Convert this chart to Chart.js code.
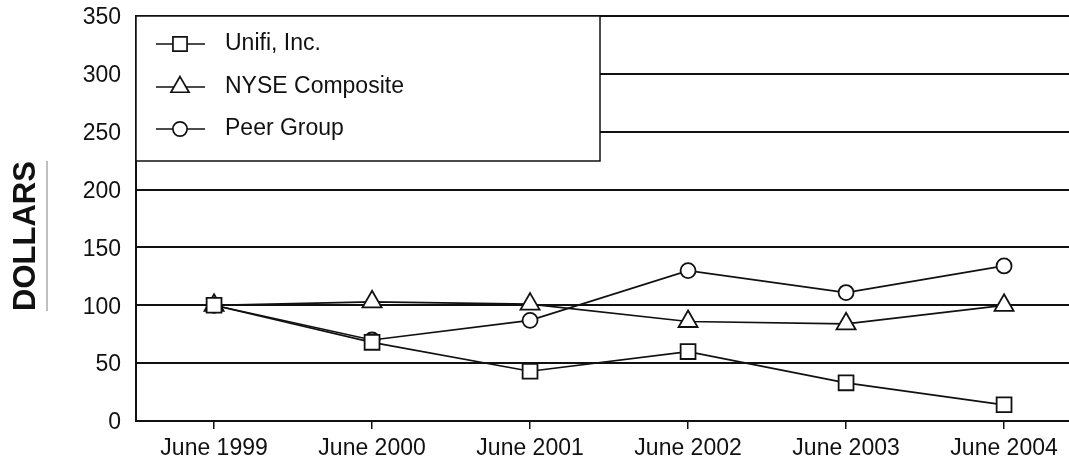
<!DOCTYPE html>
<html lang="en">
<head>
    <meta charset="UTF-8">
    <title>Stock Performance</title>
    <script src="https://cdn.jsdelivr.net/npm/chart.js"></script>
    <style>
        body {
            margin: 0;
            background: #fff;
            overflow: hidden;
        }
        canvas {
            display: block;
        }
    </style>
</head>
<body>
    <canvas id="perfChart" width="1069" height="459"></canvas>
    <script>
        const years = ['June 1999', 'June 2000', 'June 2001', 'June 2002', 'June 2003', 'June 2004'];
        const unifi = [100, 68, 43, 60, 33, 14];
        const nyse = [100, 103, 101, 86, 84, 100];
        const peer = [100, 70, 87, 130, 111, 134];
        const yTicks = [0, 50, 100, 150, 200, 250, 300, 350];

        const font = 'Liberation Sans, Arial, sans-serif';
        const ink = '#111';

        function series(label, values, style, radius) {
            return {
                label: label,
                data: values.map((v, i) => ({ x: i, y: v })),
                borderColor: ink,
                borderWidth: 1.7,
                pointStyle: style,
                pointRadius: radius,
                pointHoverRadius: radius,
                pointBackgroundColor: '#fff',
                pointBorderColor: ink,
                pointBorderWidth: 1.8,
                tension: 0
            };
        }

        // legend box in the top left corner + underlined axis title
        const decor = {
            id: 'decor',
            afterDraw(chart) {
                const ctx = chart.ctx;
                const area = chart.chartArea;
                ctx.save();
                ctx.fillStyle = '#fff';
                ctx.fillRect(area.left, area.top, 464, 145);
                ctx.strokeStyle = ink;
                ctx.lineWidth = 1.5;
                ctx.strokeRect(area.left, area.top, 464, 145);

                const rows = [44, 87, 129];
                chart.data.datasets.forEach((ds, i) => {
                    const y = rows[i];
                    ctx.strokeStyle = ink;
                    ctx.lineWidth = 1.7;
                    ctx.beginPath();
                    ctx.moveTo(156, y);
                    ctx.lineTo(205, y);
                    ctx.stroke();
                    ctx.fillStyle = '#fff';
                    Chart.helpers.drawPoint(ctx, {
                        pointStyle: ds.pointStyle,
                        radius: ds.pointRadius * 0.95,
                        rotation: 0,
                        borderWidth: 1.8
                    }, 180, y);
                    ctx.fillStyle = ink;
                    ctx.font = '23px ' + font;
                    ctx.textBaseline = 'middle';
                    ctx.textAlign = 'left';
                    ctx.fillText(ds.label, 225, y);
                });

                // axis title
                ctx.translate(26, 236);
                ctx.rotate(-Math.PI / 2);
                ctx.font = 'bold 31px ' + font;
                ctx.textAlign = 'center';
                ctx.textBaseline = 'middle';
                ctx.fillStyle = ink;
                ctx.fillText('DOLLARS', 0, 0);
                const w = ctx.measureText('DOLLARS').width;
                ctx.strokeStyle = '#aaa';
                ctx.lineWidth = 1.5;
                ctx.beginPath();
                ctx.moveTo(-w / 2, 21);
                ctx.lineTo(w / 2, 21);
                ctx.stroke();
                ctx.restore();
            }
        };

        new Chart(document.getElementById('perfChart'), {
            type: 'line',
            data: {
                datasets: [
                    series('Unifi, Inc.', unifi, 'rect', 10.5),
                    series('NYSE Composite', nyse, 'triangle', 11),
                    series('Peer Group', peer, 'circle', 7.5)
                ]
            },
            options: {
                responsive: false,
                animation: false,
                layout: {
                    autoPadding: false,
                    padding: { top: 16, left: 0, right: 0, bottom: 0 }
                },
                plugins: {
                    legend: { display: false },
                    tooltip: { enabled: false }
                },
                scales: {
                    x: {
                        type: 'linear',
                        min: -0.494,
                        max: 5.411,
                        afterBuildTicks: s => { s.ticks = years.map((_, i) => ({ value: i })); },
                        afterFit: s => {
                            s.height = 38;
                            s.paddingLeft = 0;
                            s.paddingRight = 0;
                        },
                        grid: {
                            drawOnChartArea: false,
                            drawTicks: true,
                            tickLength: 8,
                            color: ink,
                            lineWidth: 1.5
                        },
                        border: { color: ink, width: 2 },
                        ticks: {
                            autoSkip: false,
                            maxRotation: 0,
                            padding: 6,
                            color: ink,
                            font: { family: font, size: 23 },
                            callback: v => years[v]
                        }
                    },
                    y: {
                        min: 0,
                        max: 350,
                        afterBuildTicks: s => { s.ticks = yTicks.map(v => ({ value: v })); },
                        afterFit: s => {
                            s.width = 136;
                            s.paddingTop = 0;
                            s.paddingBottom = 0;
                        },
                        grid: {
                            drawTicks: false,
                            color: ink,
                            lineWidth: 2
                        },
                        border: { color: ink, width: 2 },
                        ticks: {
                            padding: 15,
                            labelOffset: 2,
                            color: ink,
                            font: { family: font, size: 23 }
                        }
                    }
                }
            },
            plugins: [decor]
        });
    </script>
</body>
</html>
